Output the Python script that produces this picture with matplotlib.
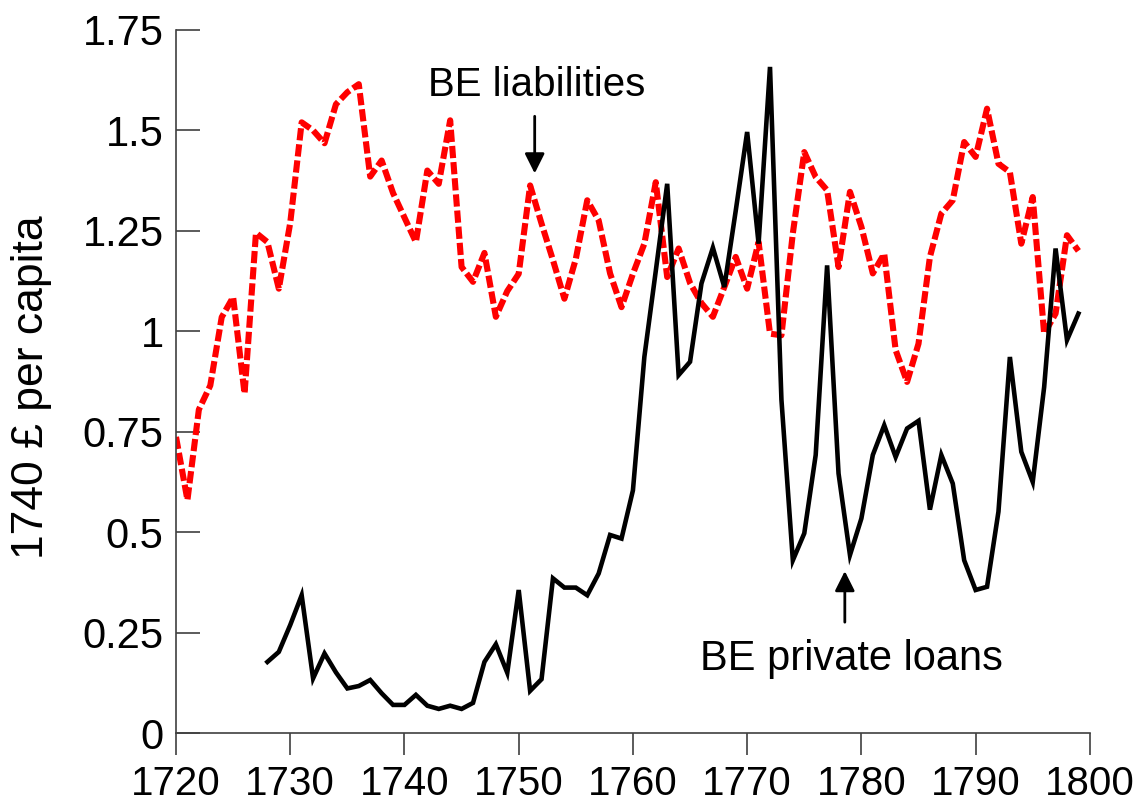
import numpy as np
import matplotlib
matplotlib.use("Agg")
import matplotlib.pyplot as plt

# years and series
liab_years = list(range(1720, 1800))
liabilities = [0.737, 0.58, 0.805, 0.865, 1.035, 1.085, 0.845, 1.245, 1.222, 1.106,
               1.27, 1.52, 1.50, 1.468, 1.565, 1.595, 1.615, 1.385, 1.425, 1.344,
               1.283, 1.222, 1.40, 1.367, 1.525, 1.16, 1.123, 1.195, 1.036, 1.10,
               1.143, 1.363, 1.268, 1.177, 1.081, 1.18, 1.326, 1.276, 1.144, 1.06,
               1.143, 1.218, 1.371, 1.135, 1.206, 1.12, 1.07, 1.036, 1.11, 1.185,
               1.106, 1.222, 0.994, 0.99, 1.244, 1.446, 1.384, 1.351, 1.16, 1.347,
               1.26, 1.144, 1.193, 0.953, 0.874, 0.969, 1.185, 1.293, 1.326, 1.471,
               1.434, 1.554, 1.417, 1.396, 1.218, 1.334, 0.994, 1.044, 1.239, 1.20]

loan_years = list(range(1728, 1800))
loans = [0.177, 0.202, 0.269, 0.343, 0.136, 0.198, 0.151, 0.111, 0.117, 0.132,
         0.099, 0.070, 0.070, 0.095, 0.068, 0.060, 0.068, 0.060, 0.075, 0.177,
         0.221, 0.150, 0.356, 0.105, 0.134, 0.385, 0.362, 0.362, 0.343, 0.397,
         0.493, 0.484, 0.604, 0.936, 1.15, 1.367, 0.891, 0.924, 1.119, 1.208,
         1.110, 1.30, 1.496, 1.218, 1.658, 0.83, 0.430, 0.497, 0.692, 1.164,
         0.646, 0.443, 0.534, 0.692, 0.766, 0.687, 0.758, 0.777, 0.556, 0.692,
         0.621, 0.430, 0.356, 0.364, 0.551, 0.936, 0.700, 0.625, 0.861, 1.206,
         0.978, 1.044]

x_ticks = list(range(1720, 1801, 10))
y_ticks = [0, 0.25, 0.5, 0.75, 1, 1.25, 1.5, 1.75]
y_ticklabels = ["0", "0.25", "0.5", "0.75", "1", "1.25", "1.5", "1.75"]

plt.rcParams['font.family'] = ['Liberation Sans', 'DejaVu Sans']

fig = plt.figure(figsize=(11.4, 8.09), dpi=100)
ax = fig.add_axes([0.1544, 0.0939, 0.8016, 0.8691])

ax.plot(liab_years, liabilities, color='#ff0000', lw=4.4,
        dashes=(2.0, 0.65), dash_capstyle='butt', solid_joinstyle='miter')
ax.plot(loan_years, loans, color='black', lw=3.3, solid_joinstyle='miter')

ax.set_xlim(1720, 1800)
ax.set_ylim(0, 1.75)
ax.set_xticks(x_ticks)
ax.set_yticks(y_ticks)
ax.set_yticklabels(y_ticklabels)

for side in ['top', 'right']:
    ax.spines[side].set_visible(False)
for side in ['left', 'bottom']:
    ax.spines[side].set_color('#404040')
    ax.spines[side].set_linewidth(1.2)

ax.tick_params(axis='y', direction='in', length=17, width=1.2, color='#404040',
               labelsize=30, pad=9)
ax.tick_params(axis='x', direction='out', length=16, width=1.2, color='#404040',
               labelsize=29, pad=7)

fig.text(0.028, 0.522, "1740 £ per capita", rotation=90, ha='center', va='center',
         fontsize=32)

# annotations
ax.annotate('', xy=(1751.4, 1.386), xytext=(1751.4, 1.542),
            arrowprops=dict(arrowstyle='-|>', color='black', lw=2, mutation_scale=30))
ax.text(1751.6, 1.612, "BE liabilities", ha='center', va='center', fontsize=29)

ax.annotate('', xy=(1778.55, 0.41), xytext=(1778.55, 0.269),
            arrowprops=dict(arrowstyle='-|>', color='black', lw=2, mutation_scale=30))
ax.text(1779.1, 0.157, "BE private loans", ha='center', va='baseline', fontsize=30)

fig.savefig("out.png", dpi=100)
